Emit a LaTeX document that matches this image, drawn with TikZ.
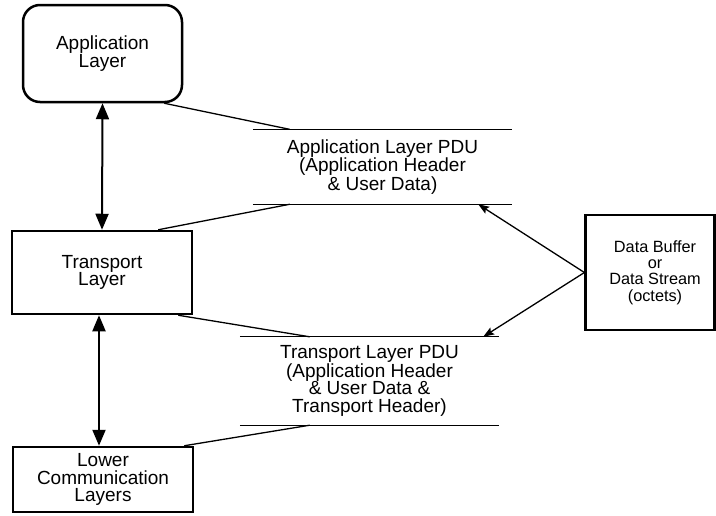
\documentclass[tikz,border=0pt]{standalone}
\usepackage{fontspec}
\setmainfont{Liberation Sans}
\usetikzlibrary{arrows.meta}
\tikzset{
  layerbox/.style={draw, line width=2.5pt, inner sep=0pt, align=center,
    font=\fontsize{19}{17.3}\selectfont},
  pdu/.style={inner sep=0pt, align=center, minimum width=259pt,
    font=\fontsize{19}{17.3}\selectfont},
  pduline/.style={line width=1.3pt},
  thin/.style={line width=1.3pt},
  bigarrow/.style={line width=2pt, {Triangle[length=16pt,width=13pt]}-{Triangle[length=16pt,width=13pt]}},
  smallarrow/.style={line width=1.3pt, -{Stealth[length=11pt,width=8pt,inset=2pt]}}
}
\begin{document}
\begin{tikzpicture}[x=1pt,y=-1pt]
\useasboundingbox (0,0) rectangle (716,515);
\fill[white] (0,0) rectangle (716,515);

\node[layerbox, rounded corners=17pt, minimum width=159pt, minimum height=97pt] (app) at (102.5,53.5) {Application\\Layer};
\node[layerbox, minimum width=180pt, minimum height=83pt] (trans) at (102,272.5) {Transport\\Layer};
\node[layerbox, minimum width=180pt, minimum height=65pt] (low) at (103,479.5) {Lower\\Communication\\Layers};
\node[layerbox, line width=2.2pt, minimum width=129pt, minimum height=115pt,
  label={[font=\fontsize{16.3}{16.2}\selectfont, align=center, inner sep=0pt, xshift=5pt]center:Data Buffer\\or\\Data Stream\\(octets)}] (data) at (650,272.5) {};

\node[pdu, minimum height=74.5pt] (apdu) at (382.5,166.8) {Application Layer PDU\\(Application Header\\\& User Data)};
\node[pdu, minimum height=88pt] (tpdu) at (369.5,381) {Transport Layer PDU\\(Application Header\\\& User Data \&\\Transport Header)};

\draw[pduline] (apdu.north west) -- (apdu.north east);
\draw[pduline] (apdu.south west) -- (apdu.south east);
\draw[pduline] (tpdu.north west) -- (tpdu.north east);
\draw[pduline] (tpdu.south west) -- (tpdu.south east);

\draw[thin] ([xshift=-19pt]app.south east) -- ([xshift=37pt]apdu.north west);
\draw[thin] ([xshift=-35pt]trans.north east) -- ([xshift=37pt]apdu.south west);
\draw[thin] ([xshift=-15pt]trans.south east) -- ([xshift=70pt]tpdu.north west);
\draw[thin] ([xshift=-10pt]low.north east) -- ([xshift=70pt]tpdu.south west);

\draw[bigarrow] (app.south) -- (trans.north);
\draw[bigarrow] ([xshift=-4pt]trans.south -| low.north) -- ([xshift=-4pt]low.north);

\draw[smallarrow] (data.west) -- ([xshift=-34pt]apdu.south east);
\draw[smallarrow] (data.west) -- ([xshift=-16pt]tpdu.north east);
\end{tikzpicture}
\end{document}
